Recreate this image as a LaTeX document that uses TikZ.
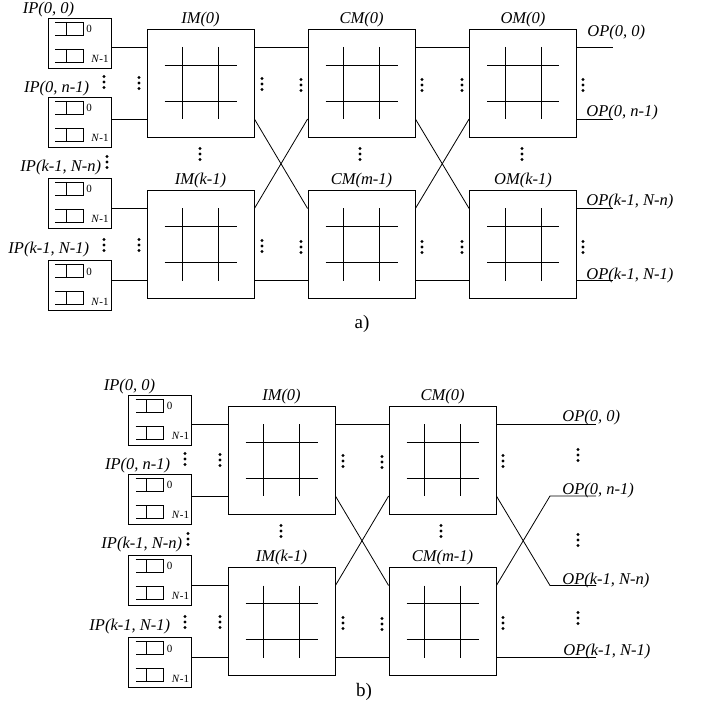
\documentclass[tikz,border=0pt]{standalone}
\usepackage{fontspec}
\setmainfont{Liberation Serif}
\usetikzlibrary{positioning}

\begin{document}
\begin{tikzpicture}[x=1pt, y=-1pt, line width=0.8pt,
        modulo/.style={draw, minimum width=107pt, minimum height=108pt, inner sep=0pt},
        ipbox/.style={draw, minimum width=63pt, minimum height=50pt, inner sep=0pt},
        etiq/.style={font=\fontsize{16.5}{16.5}\selectfont\itshape, inner sep=1.5pt},
        chico/.style={font=\fontsize{11}{11}\selectfont, inner sep=0pt},
        leyenda/.style={font=\fontsize{19}{19}\selectfont},
        puntos/.pic={\foreach \dy in {-5.5,0,5.5} \fill (0,\dy) circle (1.6pt);},
        cruce/.pic={
            \draw (-18,-36) -- (-18,36);
            \draw (18,-36) -- (18,36);
            \draw (-36,-18) -- (36,-18);
            \draw (-36,18) -- (36,18);},
        colas/.pic={
            % cola 0
            \draw (-24.5,-21) -- (3.5,-21) -- (3.5,-8) -- (-24.5,-8);
            \draw (-13.5,-21) -- (-13.5,-8);
            \node[chico, anchor=west] (-cero) at (6.5,-14) {0};
            % cola N-1
            \draw (-24.5,6) -- (3.5,6) -- (3.5,19) -- (-24.5,19);
            \draw (-13.5,6) -- (-13.5,19);
            \node[chico] (-ult) at (20.5,16) {\textit{N}-1};}]

    \useasboundingbox (0,0) rectangle (702,708);

    % ================= a) =================
    % Puertos de entrada
    \node[ipbox] (ip1) at (79.5,43) {};
    \node[ipbox] (ip2) at (79.5,122) {};
    \node[ipbox] (ip3) at (79.5,203) {};
    \node[ipbox] (ip4) at (79.5,285.5) {};
    \foreach \n in {1,...,4} \pic (q\n) at (ip\n) {colas};
    \node[etiq, anchor=east] (lip1) at (76,9.5) {IP(0, 0)};
    \node[etiq, anchor=east] (lip2) at (91,89) {IP(0, n-1)};
    \node[etiq, anchor=east] (lip3) at (103,168) {IP(k-1, N-n)};
    \node[etiq, anchor=east] (lip4) at (91,250) {IP(k-1, N-1)};

    % Modulos
    \node[modulo] (im0) at (200.5,83) {};
    \node[modulo] (im1) at (200.5,244.5) {};
    \node[modulo] (cm0) at (361.5,83) {};
    \node[modulo] (cm1) at (361.5,244.5) {};
    \node[modulo] (om0) at (523,83) {};
    \node[modulo] (om1) at (523,244.5) {};
    \foreach \m in {im0,im1,cm0,cm1,om0,om1} {
        \pic at (\m) {cruce};
        \coordinate (\m-ia) at ([yshift=36pt]\m.west);
        \coordinate (\m-ib) at ([yshift=-36pt]\m.west);
        \coordinate (\m-oa) at ([yshift=36pt]\m.east);
        \coordinate (\m-ob) at ([yshift=-36pt]\m.east);
    }
    \node[etiq, above=0pt of im0] (lim0) {IM(0)};
    \node[etiq, above=0pt of im1] (lim1) {IM(k-1)};
    \node[etiq, above=0pt of cm0] (lcm0) {CM(0)};
    \node[etiq, above=0pt of cm1] (lcm1) {CM(m-1)};
    \node[etiq, above=0pt of om0] (lom0) {OM(0)};
    \node[etiq, above=0pt of om1] (lom1) {OM(k-1)};

    % Enlaces
    \draw (ip1.east |- im0-ia) -- (im0-ia);
    \draw (ip2.east |- im0-ib) -- (im0-ib);
    \draw (ip3.east |- im1-ia) -- (im1-ia);
    \draw (ip4.east |- im1-ib) -- (im1-ib);
    \draw (im0-oa) -- (cm0-ia);
    \draw (im0-ob) -- (cm1-ia);
    \draw (im1-oa) -- (cm0-ib);
    \draw (im1-ob) -- (cm1-ib);
    \draw (cm0-oa) -- (om0-ia);
    \draw (cm0-ob) -- (om1-ia);
    \draw (cm1-oa) -- (om0-ib);
    \draw (cm1-ob) -- (om1-ib);

    % Puertos de salida
    \coordinate (op1) at (613,47);
    \coordinate (op2) at (613,119);
    \coordinate (op3) at (613,208.5);
    \coordinate (op4) at (613,280.5);
    \draw (om0-oa) -- (op1);
    \draw (om0-ob) -- (op2);
    \draw (om1-oa) -- (op3);
    \draw (om1-ob) -- (op4);
    \node[etiq, anchor=base west] (lop1) at (585.5,37) {OP(0, 0)};
    \node[etiq, anchor=base west] (lop2) at (584.5,117) {OP(0, n-1)};
    \node[etiq, anchor=base west] (lop3) at (584.5,206) {OP(k-1, N-n)};
    \node[etiq, anchor=base west] (lop4) at (584.5,279) {OP(k-1, N-1)};

    % Puntos suspensivos
    \foreach \p in {(104,82),(107,162),(104,245),(139,83),(139,245),
                    (262,84),(301,85),(262,246),(301,247),
                    (422,85),(462,85),(422,247),(462,247),
                    (583,85),(583,247),(200,154),(360,154),(522,154)}
        \pic at \p {puntos};

    \node[leyenda] (capa) at (362,324) {a)};

    % ================= b) =================
    \begin{scope}[shift={(81,377)}]
    % Puertos de entrada
    \node[ipbox] (bip1) at (79,43) {};
    \node[ipbox] (bip2) at (79,122) {};
    \node[ipbox] (bip3) at (79,203) {};
    \node[ipbox] (bip4) at (79,285.5) {};
    \foreach \n in {1,...,4} \pic (bq\n) at (bip\n) {colas};
    \node[etiq, anchor=east] (blip1) at (76,9.5) {IP(0, 0)};
    \node[etiq, anchor=east] (blip2) at (91,89) {IP(0, n-1)};
    \node[etiq, anchor=east] (blip3) at (103,168) {IP(k-1, N-n)};
    \node[etiq, anchor=east] (blip4) at (91,250) {IP(k-1, N-1)};

    % Modulos
    \node[modulo] (bim0) at (200.5,83) {};
    \node[modulo] (bim1) at (200.5,244.5) {};
    \node[modulo] (bcm0) at (361.5,83) {};
    \node[modulo] (bcm1) at (361.5,244.5) {};
    \foreach \m in {bim0,bim1,bcm0,bcm1} {
        \pic at (\m) {cruce};
        \coordinate (\m-ia) at ([yshift=36pt]\m.west);
        \coordinate (\m-ib) at ([yshift=-36pt]\m.west);
        \coordinate (\m-oa) at ([yshift=36pt]\m.east);
        \coordinate (\m-ob) at ([yshift=-36pt]\m.east);
    }
    \node[etiq, above=0pt of bim0] (blim0) {IM(0)};
    \node[etiq, above=0pt of bim1] (blim1) {IM(k-1)};
    \node[etiq, above=0pt of bcm0] (blcm0) {CM(0)};
    \node[etiq, above=0pt of bcm1] (blcm1) {CM(m-1)};

    % Enlaces
    \draw (bip1.east |- bim0-ia) -- (bim0-ia);
    \draw (bip2.east |- bim0-ib) -- (bim0-ib);
    \draw (bip3.east |- bim1-ia) -- (bim1-ia);
    \draw (bip4.east |- bim1-ib) -- (bim1-ib);
    \draw (bim0-oa) -- (bcm0-ia);
    \draw (bim0-ob) -- (bcm1-ia);
    \draw (bim1-oa) -- (bcm0-ib);
    \draw (bim1-ob) -- (bcm1-ib);

    % Puertos de salida (cruzados)
    \coordinate (bop1) at (515,47);
    \coordinate (bop2) at (515,119);
    \coordinate (bop3) at (515,208.5);
    \coordinate (bop4) at (515,280.5);
    \coordinate (bx2) at (469,119);
    \coordinate (bx3) at (469,208.5);
    \draw (bcm0-oa) -- (bop1);
    \draw (bcm1-oa) -- (bx2) -- (bop2);
    \draw (bcm0-ob) -- (bx3) -- (bop3);
    \draw (bcm1-ob) -- (bop4);
    \node[etiq, anchor=base west] (blop1) at (479.5,44) {OP(0, 0)};
    \node[etiq, anchor=base west] (blop2) at (479.5,117) {OP(0, n-1)};
    \node[etiq, anchor=base west] (blop3) at (479.5,207) {OP(k-1, N-n)};
    \node[etiq, anchor=base west] (blop4) at (480.5,278) {OP(k-1, N-1)};

    % Puntos suspensivos
    \foreach \p in {(104,82),(107,162),(104,245),(139,83),(139,245),
                    (262,84),(301,85),(262,246),(301,247),
                    (422,84),(422,246),(200,154),(360,154),
                    (497,78),(497,163),(497,241)}
        \pic at \p {puntos};
    \end{scope}

    \node[leyenda] (capb) at (364,692) {b)};
\end{tikzpicture}
\end{document}
